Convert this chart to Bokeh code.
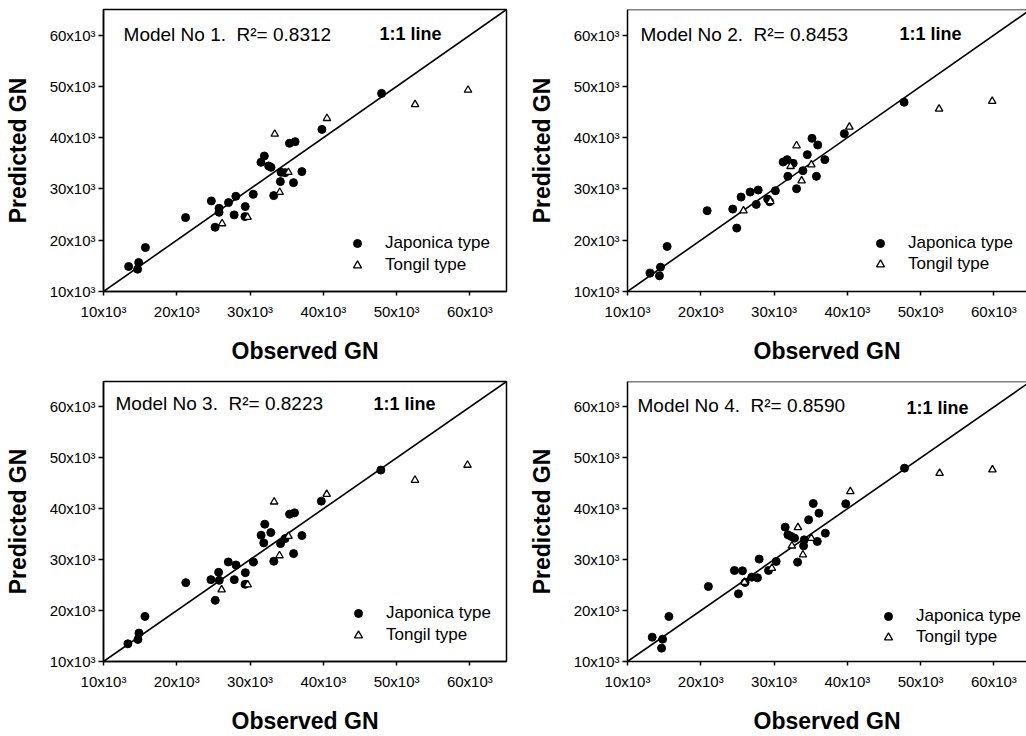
import numpy as np
from bokeh.plotting import figure
from bokeh.layouts import column, row
from bokeh.models import (Range1d, FixedTicker, CustomJSTickFormatter, Label,
                          Legend, LegendItem, Span)
from bokeh.embed import file_html
from bokeh.resources import INLINE

# ---------------- data (GN values in thousands) ----------------
tick_values = [10, 20, 30, 40, 50, 60]
axis_limits = [10, 65]
one_to_one = [10, 65]

model_titles = ["Model No 1.", "Model No 2.", "Model No 3.", "Model No 4."]
r2_values = ["0.8312", "0.8453", "0.8223", "0.8590"]
series_names = ["Japonica type", "Tongil type"]

# Model No 1
m1_jap_obs = [13.43, 14.80, 14.66, 15.72, 21.20, 24.72, 25.23, 25.77, 25.77, 27.06, 28.06, 27.83, 29.34, 29.30, 30.44,
              31.49, 31.95, 32.54, 32.86, 33.23, 34.14, 34.23, 34.78, 35.38, 36.15, 35.93, 37.07, 39.81, 47.95]
m1_jap_pred = [14.87, 15.65, 14.35, 18.57, 24.42, 27.66, 22.53, 26.23, 25.45, 27.34, 28.57, 24.94, 26.56, 24.61, 28.96,
               35.19, 36.43, 34.48, 34.22, 28.70, 31.43, 33.25, 33.18, 38.90, 39.22, 31.23, 33.38, 41.62, 48.64]
m1_ton_obs = [26.19, 29.66, 33.37, 34.05, 35.24, 40.50, 52.52, 59.75]
m1_ton_pred = [23.25, 24.48, 40.71, 29.35, 33.25, 43.77, 46.49, 49.29]

# Model No 2
m2_jap_obs = [13.07, 14.50, 14.36, 15.41, 20.87, 24.36, 24.91, 25.50, 26.74, 27.84, 27.57, 29.13, 29.40, 30.18,
              31.24, 31.79, 32.61, 31.88, 33.07, 33.94, 34.54, 35.18, 35.96, 35.78, 36.93, 39.59, 47.75]
m2_jap_pred = [13.58, 14.75, 13.06, 18.79, 25.76, 26.08, 22.37, 28.42, 29.40, 29.79, 26.99, 28.03, 27.51, 29.66,
               35.26, 35.72, 35.00, 32.46, 30.05, 33.57, 36.69, 39.88, 38.58, 32.46, 35.72, 40.79, 46.91]
m2_ton_obs = [25.83, 29.50, 32.25, 33.07, 33.76, 35.09, 40.28, 52.52, 59.77]
m2_ton_pred = [25.76, 27.58, 34.41, 38.45, 31.61, 34.74, 42.10, 45.61, 47.11]

# Model No 3
m3_jap_obs = [13.33, 14.70, 14.84, 15.66, 21.23, 24.66, 25.25, 25.71, 25.80, 27.03, 28.08, 27.85, 29.36, 29.32,
              30.46, 31.51, 32.01, 31.87, 32.83, 33.24, 34.16, 34.79, 35.39, 36.07, 35.94, 37.08, 39.73, 47.85]
m3_jap_pred = [13.48, 14.33, 15.58, 18.86, 25.49, 26.08, 22.01, 27.52, 25.94, 29.55, 28.96, 26.08, 27.45, 25.16,
               29.55, 34.80, 36.97, 33.29, 35.33, 29.69, 33.16, 34.15, 38.94, 39.20, 31.19, 34.74, 41.50, 47.60]
m3_ton_obs = [26.12, 29.68, 33.29, 34.02, 35.25, 40.46, 52.51, 59.68]
m3_ton_pred = [24.11, 25.09, 41.36, 30.80, 34.61, 42.87, 45.63, 48.58]

# Model No 4
m4_jap_obs = [13.37, 14.79, 14.65, 15.65, 21.04, 24.59, 25.69, 25.14, 26.05, 26.96, 27.74, 27.97, 29.24, 30.29,
              31.52, 31.89, 32.34, 32.80, 34.03, 33.21, 34.12, 34.72, 35.35, 36.13, 35.90, 37.00, 39.78, 47.80]
m4_jap_pred = [14.78, 14.39, 12.62, 18.84, 24.73, 27.88, 27.81, 23.29, 25.52, 26.57, 26.44, 30.11, 27.88, 29.65,
               36.39, 34.89, 34.56, 34.23, 32.72, 29.52, 33.90, 37.83, 41.04, 39.14, 33.58, 35.21, 40.98, 47.98]
m4_ton_obs = [25.96, 29.70, 32.43, 33.26, 33.94, 35.08, 40.41, 52.59, 59.80]
m4_ton_pred = [25.59, 28.34, 32.72, 36.33, 30.96, 34.23, 43.40, 47.00, 47.66]

panels_data = [
    (m1_jap_obs, m1_jap_pred, m1_ton_obs, m1_ton_pred),
    (m2_jap_obs, m2_jap_pred, m2_ton_obs, m2_ton_pred),
    (m3_jap_obs, m3_jap_pred, m3_ton_obs, m3_ton_pred),
    (m4_jap_obs, m4_jap_pred, m4_ton_obs, m4_ton_pred),
]

# ---------------- layout / style ----------------
FONT = "Liberation Sans"
K = 1000.0
# text positions (data units, thousands): model text, "1:1 line"
text_pos = [((12.74, 60.2), (47.67, 60.2)),
            ((11.78, 60.2), (47.12, 60.2)),
            ((11.64, 60.6), (46.85, 60.6)),
            ((11.37, 60.2), (48.08, 59.8))]
legend_loc = [(244, 16), (243, 17), (245, 16), (251, 14)]
legend_spacing = [2, 1, 2, 1]


def make_panel(i):
    left = i in (0, 2)
    top = i < 2
    width = 524 if left else 502
    height = 366 if top else 370
    mb_top = 9 if top else 15
    mb_bottom = 75
    mb_right = 18 if left else 0
    x_end = axis_limits[1] if left else 64.45

    p = figure(width=width, height=height, output_backend="svg", toolbar_location=None,
               x_range=Range1d(axis_limits[0] * K, x_end * K),
               y_range=Range1d(axis_limits[0] * K, axis_limits[1] * K),
               min_border_left=103, min_border_right=mb_right,
               min_border_top=mb_top, min_border_bottom=mb_bottom,
               background_fill_color="white", border_fill_color="white")
    p.grid.visible = False
    if left:
        p.outline_line_color = "black"
        p.outline_line_width = 1.5
    else:
        p.outline_line_color = None
        p.add_layout(Span(location=axis_limits[1] * K, dimension="width",
                          line_color="black", line_width=1.5))

    fmt = CustomJSTickFormatter(code="return (tick/1000).toFixed(0) + 'x10\u00b3';")
    for ax in (p.xaxis[0], p.yaxis[0]):
        ax.ticker = FixedTicker(ticks=[t * K for t in tick_values])
        ax.formatter = fmt
        ax.major_label_text_font = FONT
        ax.major_label_text_font_size = "15px"
        ax.major_label_text_color = "black"
        ax.axis_line_width = 1.5
        ax.axis_line_color = "black"
        ax.major_tick_line_width = 1.5
        ax.major_tick_line_color = "black"
        ax.major_tick_in = 0
        ax.minor_tick_line_color = None
        ax.axis_label_text_font = FONT
        ax.axis_label_text_font_style = "bold"
        ax.axis_label_text_font_size = "23px"
        ax.axis_label_text_color = "black"
    p.xaxis.axis_label = "Observed GN"
    p.xaxis.major_tick_out = 4
    p.xaxis.major_label_standoff = 7
    p.xaxis.axis_label_standoff = 15
    p.yaxis.axis_label = "Predicted GN"
    p.yaxis.major_tick_out = 5
    p.yaxis.major_label_standoff = 3
    p.yaxis.axis_label_standoff = 16

    jo, jp, to, tp = panels_data[i]
    p.line([v * K for v in one_to_one], [v * K for v in one_to_one], line_color="black", line_width=1.6)
    rj = p.scatter([v * K for v in jo], [v * K for v in jp], marker="circle", size=8,
                   fill_color="black", line_color="black")
    rt = p.scatter([v * K for v in to], [v * K for v in tp], marker="triangle", size=7.5,
                   fill_color="white", line_color="black", line_width=1.3)

    (mx, my), (lx, ly) = text_pos[i]
    p.add_layout(Label(x=mx * K, y=my * K,
                       text=f"{model_titles[i]}\u00a0\u00a0R\u00b2= {r2_values[i]}",
                       text_font=FONT, text_font_size="19px", text_color="black",
                       text_baseline="middle", text_align="left"))
    p.add_layout(Label(x=lx * K, y=ly * K, text="1:1 line", text_font=FONT, text_font_size="18px",
                       text_font_style="bold", text_color="black",
                       text_baseline="middle", text_align="left"))

    leg = Legend(items=[LegendItem(label=series_names[0], renderers=[rj]),
                        LegendItem(label=series_names[1], renderers=[rt])],
                 location=legend_loc[i], orientation="vertical",
                 border_line_color=None, background_fill_alpha=0,
                 padding=0, margin=0, spacing=legend_spacing[i],
                 glyph_width=20, glyph_height=20, label_height=20,
                 label_standoff=18, label_text_font=FONT, label_text_font_size="17px",
                 label_text_color="black")
    p.add_layout(leg)
    return p


panels = [make_panel(i) for i in range(4)]
layout = column(row(panels[0], panels[1]), row(panels[2], panels[3]))

open("out.html", "w").write(file_html(layout, INLINE))
